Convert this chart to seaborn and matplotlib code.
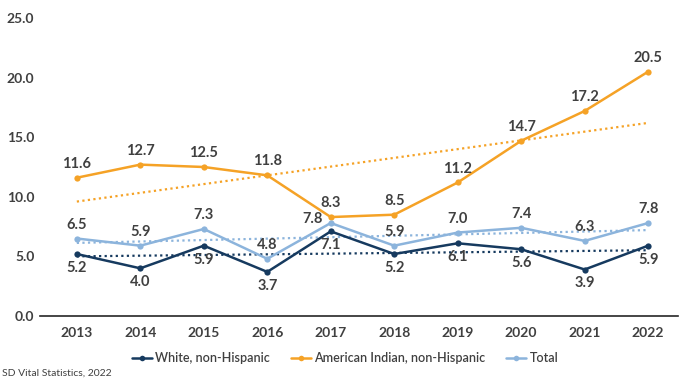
import numpy as np
import pandas as pd
import matplotlib
matplotlib.use("Agg")
import matplotlib.pyplot as plt
import seaborn as sns
from matplotlib.lines import Line2D

years = ["2013", "2014", "2015", "2016", "2017", "2018", "2019", "2020", "2021", "2022"]
white = [5.2, 4.0, 5.9, 3.7, 7.1, 5.2, 6.1, 5.6, 3.9, 5.9]
american_indian = [11.6, 12.7, 12.5, 11.8, 8.3, 8.5, 11.2, 14.7, 17.2, 20.5]
total = [6.5, 5.9, 7.3, 4.8, 7.8, 5.9, 7.0, 7.4, 6.3, 7.8]
series_names = ["White, non-Hispanic", "American Indian, non-Hispanic", "Total"]
yticks = [0, 5, 10, 15, 20, 25]
source = "SD Vital Statistics, 2022"

sns.set_theme(style="white")
plt.rcParams["font.family"] = ["Lato", "DejaVu Sans"]

colors = {"White, non-Hispanic": "#163A5F",
          "American Indian, non-Hispanic": "#F5A226",
          "Total": "#8CB4DC"}
label_pos = {"White, non-Hispanic": "below",
             "American Indian, non-Hispanic": "above",
             "Total": "above"}

fig = plt.figure(figsize=(6.79, 3.79), dpi=100)
ax = fig.add_axes([40 / 679, (379 - 316) / 379, (678 - 40) / 679, (316 - 18) / 379])

xs = np.arange(len(years))
data = {"White, non-Hispanic": white,
        "American Indian, non-Hispanic": american_indian,
        "Total": total}

# trend lines first
for name in series_names:
    df = pd.DataFrame({"x": xs, "y": data[name]})
    sns.regplot(data=df, x="x", y="y", ax=ax, scatter=False, ci=None, truncate=True,
                line_kws=dict(color=colors[name], lw=1.6, linestyle=(0, (1, 1.5))))

for name in series_names:
    df = pd.DataFrame({"x": xs, "y": data[name]})
    sns.lineplot(data=df, x="x", y="y", ax=ax, color=colors[name], lw=1.8,
                 marker="o", markersize=4.5, markeredgewidth=0)
    for i, (xi, yi) in enumerate(zip(xs, data[name])):
        kw = dict(textcoords="offset points", ha="center", fontsize=10.5,
                  fontweight="bold", color="#404040")
        if name == "Total" and years[i] == "2017":
            ax.annotate(f"{yi:.1f}", (xi, yi), xytext=(-13, -2), va="bottom", **kw)
        elif label_pos[name] == "above":
            ax.annotate(f"{yi:.1f}", (xi, yi), xytext=(0, 5), va="bottom", **kw)
        else:
            ax.annotate(f"{yi:.1f}", (xi, yi), xytext=(0, -5), va="top", **kw)

ax.set_xlim(-0.58, 9.47)
ax.set_ylim(0, 25)
ax.set_yticks(yticks)
ax.set_yticklabels([f"{v:.1f}" for v in yticks])
ax.set_xticks(xs)
ax.set_xticklabels(years)
ax.set_xlabel("")
ax.set_ylabel("")
for lab in ax.get_xticklabels() + ax.get_yticklabels():
    lab.set_fontweight("bold")
    lab.set_fontsize(10)
    lab.set_color("#404040")
ax.tick_params(axis="both", length=0)
ax.tick_params(axis="x", pad=8)
ax.tick_params(axis="y", pad=4)
for s in ["top", "right", "left"]:
    ax.spines[s].set_visible(False)
ax.spines["bottom"].set_color("#262626")
ax.spines["bottom"].set_linewidth(1.2)

handles = [Line2D([0], [0], color=colors[n], lw=1.8, marker="o", markersize=4, markeredgewidth=0)
           for n in series_names]
leg = fig.legend(handles, series_names, loc="center", bbox_to_anchor=(345 / 679, 1 - 358 / 379),
                 ncol=3, frameon=False, fontsize=9, handlelength=1.6, columnspacing=1.7,
                 handletextpad=0.25)
for t in leg.get_texts():
    t.set_color("#404040")
    t.set_fontweight("semibold")

fig.text(2 / 679, 1 - 373 / 379, source, fontsize=7.5, color="#404040", va="center", ha="left")

fig.savefig("out.png", dpi=100)
